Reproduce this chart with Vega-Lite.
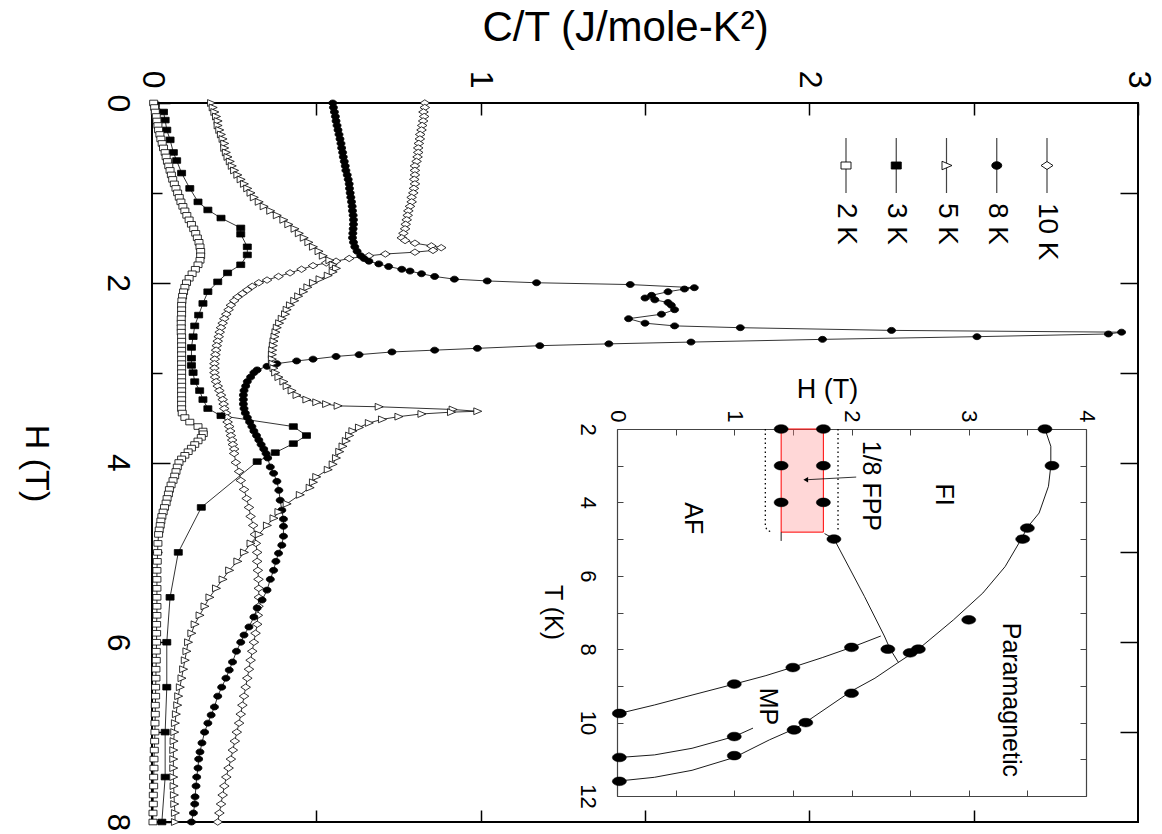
{
"$schema": "https://vega.github.io/schema/vega-lite/v6.json",
"width": 986, "height": 719,
"autosize": "none",
"padding": {"left": 152, "top": 103, "right": 24, "bottom": 12},
"background": "white",
"config": {
 "view": {"stroke": "black", "strokeWidth": 2},
 "axis": {"domain": false, "grid": false, "labelFont": "Liberation Sans", "titleFont": "Liberation Sans", "labelColor": "black", "titleColor": "black", "tickColor": "black", "titleFontWeight": "normal", "labelFlush": false, "labelOverlap": false, "labelBound": false},
 "text": {"font": "Liberation Sans"}
},
"datasets": {
"main": [
{"s":"10 K","H":0,"C":0.83},{"s":"10 K","H":0.05,"C":0.83},{"s":"10 K","H":0.1,"C":0.826},{"s":"10 K","H":0.15,"C":0.828},{"s":"10 K","H":0.2,"C":0.825},{"s":"10 K","H":0.25,"C":0.822},{"s":"10 K","H":0.3,"C":0.82},{"s":"10 K","H":0.35,"C":0.816},{"s":"10 K","H":0.4,"C":0.815},{"s":"10 K","H":0.45,"C":0.812},{"s":"10 K","H":0.5,"C":0.81},{"s":"10 K","H":0.55,"C":0.81},{"s":"10 K","H":0.6,"C":0.808},{"s":"10 K","H":0.65,"C":0.805},{"s":"10 K","H":0.7,"C":0.8},{"s":"10 K","H":0.75,"C":0.8},{"s":"10 K","H":0.8,"C":0.8},{"s":"10 K","H":0.85,"C":0.798},{"s":"10 K","H":0.9,"C":0.8},{"s":"10 K","H":0.95,"C":0.797},{"s":"10 K","H":1.0,"C":0.795},{"s":"10 K","H":1.05,"C":0.79},{"s":"10 K","H":1.1,"C":0.79},{"s":"10 K","H":1.15,"C":0.785},{"s":"10 K","H":1.2,"C":0.78},{"s":"10 K","H":1.25,"C":0.778},{"s":"10 K","H":1.3,"C":0.775},{"s":"10 K","H":1.35,"C":0.772},{"s":"10 K","H":1.4,"C":0.77},{"s":"10 K","H":1.45,"C":0.765},{"s":"10 K","H":1.5,"C":0.76},{"s":"10 K","H":1.53,"C":0.77},{"s":"10 K","H":1.56,"C":0.8},{"s":"10 K","H":1.59,"C":0.85},{"s":"10 K","H":1.61,"C":0.88},{"s":"10 K","H":1.64,"C":0.855},{"s":"10 K","H":1.66,"C":0.8},{"s":"10 K","H":1.68,"C":0.71},{"s":"10 K","H":1.7,"C":0.66},{"s":"10 K","H":1.73,"C":0.6},{"s":"10 K","H":1.76,"C":0.56},{"s":"10 K","H":1.78,"C":0.53},{"s":"10 K","H":1.81,"C":0.49},{"s":"10 K","H":1.85,"C":0.455},{"s":"10 K","H":1.89,"C":0.42},{"s":"10 K","H":1.93,"C":0.385},{"s":"10 K","H":1.97,"C":0.35},{"s":"10 K","H":2.0,"C":0.325},{"s":"10 K","H":2.04,"C":0.305},{"s":"10 K","H":2.08,"C":0.29},{"s":"10 K","H":2.12,"C":0.275},{"s":"10 K","H":2.16,"C":0.26},{"s":"10 K","H":2.2,"C":0.25},{"s":"10 K","H":2.25,"C":0.24},{"s":"10 K","H":2.3,"C":0.233},{"s":"10 K","H":2.35,"C":0.226},{"s":"10 K","H":2.4,"C":0.22},{"s":"10 K","H":2.45,"C":0.215},{"s":"10 K","H":2.5,"C":0.21},{"s":"10 K","H":2.55,"C":0.206},{"s":"10 K","H":2.6,"C":0.203},{"s":"10 K","H":2.65,"C":0.2},{"s":"10 K","H":2.7,"C":0.197},{"s":"10 K","H":2.75,"C":0.195},{"s":"10 K","H":2.8,"C":0.193},{"s":"10 K","H":2.85,"C":0.191},{"s":"10 K","H":2.9,"C":0.19},{"s":"10 K","H":2.95,"C":0.19},{"s":"10 K","H":3.0,"C":0.19},{"s":"10 K","H":3.05,"C":0.192},{"s":"10 K","H":3.1,"C":0.195},{"s":"10 K","H":3.15,"C":0.2},{"s":"10 K","H":3.2,"C":0.205},{"s":"10 K","H":3.25,"C":0.21},{"s":"10 K","H":3.3,"C":0.215},{"s":"10 K","H":3.35,"C":0.218},{"s":"10 K","H":3.4,"C":0.22},{"s":"10 K","H":3.45,"C":0.225},{"s":"10 K","H":3.5,"C":0.228},{"s":"10 K","H":3.55,"C":0.23},{"s":"10 K","H":3.6,"C":0.235},{"s":"10 K","H":3.65,"C":0.238},{"s":"10 K","H":3.7,"C":0.24},{"s":"10 K","H":3.75,"C":0.244},{"s":"10 K","H":3.8,"C":0.246},{"s":"10 K","H":3.85,"C":0.25},{"s":"10 K","H":3.9,"C":0.25},{"s":"10 K","H":4.0,"C":0.255},{"s":"10 K","H":4.1,"C":0.265},{"s":"10 K","H":4.2,"C":0.27},{"s":"10 K","H":4.3,"C":0.28},{"s":"10 K","H":4.4,"C":0.288},{"s":"10 K","H":4.5,"C":0.295},{"s":"10 K","H":4.6,"C":0.3},{"s":"10 K","H":4.7,"C":0.308},{"s":"10 K","H":4.8,"C":0.313},{"s":"10 K","H":4.9,"C":0.316},{"s":"10 K","H":5.0,"C":0.32},{"s":"10 K","H":5.1,"C":0.32},{"s":"10 K","H":5.2,"C":0.322},{"s":"10 K","H":5.3,"C":0.324},{"s":"10 K","H":5.4,"C":0.325},{"s":"10 K","H":5.5,"C":0.325},{"s":"10 K","H":5.6,"C":0.324},{"s":"10 K","H":5.7,"C":0.322},{"s":"10 K","H":5.8,"C":0.32},{"s":"10 K","H":5.9,"C":0.315},{"s":"10 K","H":6.0,"C":0.31},{"s":"10 K","H":6.1,"C":0.305},{"s":"10 K","H":6.2,"C":0.3},{"s":"10 K","H":6.3,"C":0.295},{"s":"10 K","H":6.4,"C":0.29},{"s":"10 K","H":6.5,"C":0.285},{"s":"10 K","H":6.6,"C":0.28},{"s":"10 K","H":6.7,"C":0.275},{"s":"10 K","H":6.8,"C":0.27},{"s":"10 K","H":6.9,"C":0.265},{"s":"10 K","H":7.0,"C":0.258},{"s":"10 K","H":7.1,"C":0.252},{"s":"10 K","H":7.2,"C":0.246},{"s":"10 K","H":7.3,"C":0.24},{"s":"10 K","H":7.4,"C":0.233},{"s":"10 K","H":7.5,"C":0.226},{"s":"10 K","H":7.6,"C":0.22},{"s":"10 K","H":7.7,"C":0.215},{"s":"10 K","H":7.8,"C":0.21},{"s":"10 K","H":7.9,"C":0.205},{"s":"10 K","H":8.0,"C":0.2},
{"s":"8 K","H":0,"C":0.55},{"s":"8 K","H":0.05,"C":0.552},{"s":"8 K","H":0.1,"C":0.555},{"s":"8 K","H":0.15,"C":0.558},{"s":"8 K","H":0.2,"C":0.56},{"s":"8 K","H":0.25,"C":0.563},{"s":"8 K","H":0.3,"C":0.566},{"s":"8 K","H":0.35,"C":0.569},{"s":"8 K","H":0.4,"C":0.572},{"s":"8 K","H":0.45,"C":0.575},{"s":"8 K","H":0.5,"C":0.577},{"s":"8 K","H":0.55,"C":0.58},{"s":"8 K","H":0.6,"C":0.582},{"s":"8 K","H":0.65,"C":0.585},{"s":"8 K","H":0.7,"C":0.588},{"s":"8 K","H":0.75,"C":0.59},{"s":"8 K","H":0.8,"C":0.594},{"s":"8 K","H":0.85,"C":0.597},{"s":"8 K","H":0.9,"C":0.6},{"s":"8 K","H":0.95,"C":0.601},{"s":"8 K","H":1.0,"C":0.603},{"s":"8 K","H":1.05,"C":0.605},{"s":"8 K","H":1.1,"C":0.607},{"s":"8 K","H":1.15,"C":0.609},{"s":"8 K","H":1.2,"C":0.61},{"s":"8 K","H":1.25,"C":0.612},{"s":"8 K","H":1.3,"C":0.613},{"s":"8 K","H":1.35,"C":0.613},{"s":"8 K","H":1.4,"C":0.612},{"s":"8 K","H":1.45,"C":0.611},{"s":"8 K","H":1.5,"C":0.61},{"s":"8 K","H":1.55,"C":0.613},{"s":"8 K","H":1.6,"C":0.617},{"s":"8 K","H":1.65,"C":0.624},{"s":"8 K","H":1.7,"C":0.635},{"s":"8 K","H":1.73,"C":0.645},{"s":"8 K","H":1.76,"C":0.66},{"s":"8 K","H":1.79,"C":0.69},{"s":"8 K","H":1.82,"C":0.72},{"s":"8 K","H":1.85,"C":0.76},{"s":"8 K","H":1.87,"C":0.785},{"s":"8 K","H":1.9,"C":0.82},{"s":"8 K","H":1.93,"C":0.86},{"s":"8 K","H":1.96,"C":0.92},{"s":"8 K","H":1.98,"C":1.02},{"s":"8 K","H":2.0,"C":1.17},{"s":"8 K","H":2.02,"C":1.455},{"s":"8 K","H":2.055,"C":1.65},{"s":"8 K","H":2.07,"C":1.62},{"s":"8 K","H":2.1,"C":1.57},{"s":"8 K","H":2.14,"C":1.52},{"s":"8 K","H":2.17,"C":1.5},{"s":"8 K","H":2.19,"C":1.53},{"s":"8 K","H":2.22,"C":1.57},{"s":"8 K","H":2.25,"C":1.58},{"s":"8 K","H":2.3,"C":1.59},{"s":"8 K","H":2.35,"C":1.55},{"s":"8 K","H":2.4,"C":1.45},{"s":"8 K","H":2.45,"C":1.5},{"s":"8 K","H":2.48,"C":1.59},{"s":"8 K","H":2.5,"C":1.79},{"s":"8 K","H":2.53,"C":2.25},{"s":"8 K","H":2.55,"C":2.95},{"s":"8 K","H":2.57,"C":2.91},{"s":"8 K","H":2.6,"C":2.51},{"s":"8 K","H":2.63,"C":2.04},{"s":"8 K","H":2.66,"C":1.64},{"s":"8 K","H":2.68,"C":1.39},{"s":"8 K","H":2.7,"C":1.18},{"s":"8 K","H":2.73,"C":0.99},{"s":"8 K","H":2.75,"C":0.86},{"s":"8 K","H":2.77,"C":0.73},{"s":"8 K","H":2.8,"C":0.63},{"s":"8 K","H":2.82,"C":0.56},{"s":"8 K","H":2.85,"C":0.49},{"s":"8 K","H":2.87,"C":0.44},{"s":"8 K","H":2.9,"C":0.38},{"s":"8 K","H":2.93,"C":0.35},{"s":"8 K","H":2.97,"C":0.32},{"s":"8 K","H":3.0,"C":0.31},{"s":"8 K","H":3.05,"C":0.3},{"s":"8 K","H":3.1,"C":0.29},{"s":"8 K","H":3.15,"C":0.285},{"s":"8 K","H":3.2,"C":0.28},{"s":"8 K","H":3.25,"C":0.278},{"s":"8 K","H":3.3,"C":0.278},{"s":"8 K","H":3.35,"C":0.278},{"s":"8 K","H":3.4,"C":0.28},{"s":"8 K","H":3.45,"C":0.284},{"s":"8 K","H":3.5,"C":0.29},{"s":"8 K","H":3.55,"C":0.297},{"s":"8 K","H":3.6,"C":0.304},{"s":"8 K","H":3.65,"C":0.31},{"s":"8 K","H":3.7,"C":0.318},{"s":"8 K","H":3.75,"C":0.325},{"s":"8 K","H":3.8,"C":0.332},{"s":"8 K","H":3.85,"C":0.34},{"s":"8 K","H":3.9,"C":0.347},{"s":"8 K","H":3.95,"C":0.352},{"s":"8 K","H":4.05,"C":0.36},{"s":"8 K","H":4.12,"C":0.37},{"s":"8 K","H":4.21,"C":0.38},{"s":"8 K","H":4.31,"C":0.386},{"s":"8 K","H":4.42,"C":0.39},{"s":"8 K","H":4.53,"C":0.395},{"s":"8 K","H":4.63,"C":0.4},{"s":"8 K","H":4.71,"C":0.4},{"s":"8 K","H":4.82,"C":0.4},{"s":"8 K","H":4.92,"C":0.395},{"s":"8 K","H":5.01,"C":0.385},{"s":"8 K","H":5.1,"C":0.377},{"s":"8 K","H":5.2,"C":0.37},{"s":"8 K","H":5.3,"C":0.36},{"s":"8 K","H":5.42,"C":0.35},{"s":"8 K","H":5.53,"C":0.335},{"s":"8 K","H":5.62,"C":0.32},{"s":"8 K","H":5.72,"C":0.31},{"s":"8 K","H":5.83,"C":0.295},{"s":"8 K","H":5.92,"C":0.28},{"s":"8 K","H":6.0,"C":0.27},{"s":"8 K","H":6.1,"C":0.257},{"s":"8 K","H":6.22,"C":0.245},{"s":"8 K","H":6.31,"C":0.235},{"s":"8 K","H":6.4,"C":0.225},{"s":"8 K","H":6.5,"C":0.212},{"s":"8 K","H":6.6,"C":0.2},{"s":"8 K","H":6.72,"C":0.19},{"s":"8 K","H":6.81,"C":0.18},{"s":"8 K","H":6.9,"C":0.17},{"s":"8 K","H":7.0,"C":0.16},{"s":"8 K","H":7.12,"C":0.152},{"s":"8 K","H":7.22,"C":0.146},{"s":"8 K","H":7.3,"C":0.142},{"s":"8 K","H":7.4,"C":0.14},{"s":"8 K","H":7.5,"C":0.136},{"s":"8 K","H":7.6,"C":0.134},{"s":"8 K","H":7.72,"C":0.131},{"s":"8 K","H":7.8,"C":0.13},{"s":"8 K","H":7.9,"C":0.126},{"s":"8 K","H":8.0,"C":0.12},
{"s":"5 K","H":0,"C":0.18},{"s":"5 K","H":0.05,"C":0.185},{"s":"5 K","H":0.1,"C":0.19},{"s":"5 K","H":0.15,"C":0.195},{"s":"5 K","H":0.2,"C":0.2},{"s":"5 K","H":0.25,"C":0.2},{"s":"5 K","H":0.3,"C":0.205},{"s":"5 K","H":0.35,"C":0.21},{"s":"5 K","H":0.4,"C":0.215},{"s":"5 K","H":0.45,"C":0.22},{"s":"5 K","H":0.5,"C":0.22},{"s":"5 K","H":0.55,"C":0.225},{"s":"5 K","H":0.6,"C":0.23},{"s":"5 K","H":0.65,"C":0.237},{"s":"5 K","H":0.7,"C":0.243},{"s":"5 K","H":0.75,"C":0.25},{"s":"5 K","H":0.8,"C":0.26},{"s":"5 K","H":0.85,"C":0.27},{"s":"5 K","H":0.9,"C":0.28},{"s":"5 K","H":0.95,"C":0.29},{"s":"5 K","H":1.0,"C":0.3},{"s":"5 K","H":1.05,"C":0.31},{"s":"5 K","H":1.1,"C":0.325},{"s":"5 K","H":1.15,"C":0.34},{"s":"5 K","H":1.2,"C":0.36},{"s":"5 K","H":1.25,"C":0.38},{"s":"5 K","H":1.3,"C":0.4},{"s":"5 K","H":1.35,"C":0.415},{"s":"5 K","H":1.4,"C":0.434},{"s":"5 K","H":1.45,"C":0.447},{"s":"5 K","H":1.5,"C":0.462},{"s":"5 K","H":1.55,"C":0.476},{"s":"5 K","H":1.6,"C":0.49},{"s":"5 K","H":1.65,"C":0.507},{"s":"5 K","H":1.7,"C":0.52},{"s":"5 K","H":1.75,"C":0.54},{"s":"5 K","H":1.8,"C":0.55},{"s":"5 K","H":1.84,"C":0.56},{"s":"5 K","H":1.88,"C":0.55},{"s":"5 K","H":1.92,"C":0.535},{"s":"5 K","H":1.96,"C":0.51},{"s":"5 K","H":2.0,"C":0.49},{"s":"5 K","H":2.05,"C":0.473},{"s":"5 K","H":2.1,"C":0.46},{"s":"5 K","H":2.15,"C":0.445},{"s":"5 K","H":2.2,"C":0.433},{"s":"5 K","H":2.25,"C":0.42},{"s":"5 K","H":2.3,"C":0.41},{"s":"5 K","H":2.35,"C":0.405},{"s":"5 K","H":2.4,"C":0.395},{"s":"5 K","H":2.45,"C":0.387},{"s":"5 K","H":2.5,"C":0.38},{"s":"5 K","H":2.55,"C":0.376},{"s":"5 K","H":2.6,"C":0.373},{"s":"5 K","H":2.65,"C":0.37},{"s":"5 K","H":2.7,"C":0.368},{"s":"5 K","H":2.75,"C":0.366},{"s":"5 K","H":2.8,"C":0.365},{"s":"5 K","H":2.85,"C":0.365},{"s":"5 K","H":2.9,"C":0.367},{"s":"5 K","H":2.95,"C":0.37},{"s":"5 K","H":3.0,"C":0.375},{"s":"5 K","H":3.05,"C":0.385},{"s":"5 K","H":3.1,"C":0.4},{"s":"5 K","H":3.15,"C":0.41},{"s":"5 K","H":3.2,"C":0.425},{"s":"5 K","H":3.25,"C":0.44},{"s":"5 K","H":3.3,"C":0.47},{"s":"5 K","H":3.33,"C":0.5},{"s":"5 K","H":3.35,"C":0.53},{"s":"5 K","H":3.37,"C":0.565},{"s":"5 K","H":3.38,"C":0.69},{"s":"5 K","H":3.41,"C":0.915},{"s":"5 K","H":3.43,"C":0.99},{"s":"5 K","H":3.44,"C":0.91},{"s":"5 K","H":3.46,"C":0.82},{"s":"5 K","H":3.49,"C":0.75},{"s":"5 K","H":3.52,"C":0.7},{"s":"5 K","H":3.56,"C":0.66},{"s":"5 K","H":3.61,"C":0.63},{"s":"5 K","H":3.65,"C":0.61},{"s":"5 K","H":3.7,"C":0.6},{"s":"5 K","H":3.76,"C":0.59},{"s":"5 K","H":3.82,"C":0.58},{"s":"5 K","H":3.88,"C":0.57},{"s":"5 K","H":3.95,"C":0.56},{"s":"5 K","H":4.02,"C":0.55},{"s":"5 K","H":4.08,"C":0.535},{"s":"5 K","H":4.16,"C":0.5},{"s":"5 K","H":4.22,"C":0.49},{"s":"5 K","H":4.28,"C":0.48},{"s":"5 K","H":4.36,"C":0.45},{"s":"5 K","H":4.46,"C":0.41},{"s":"5 K","H":4.55,"C":0.385},{"s":"5 K","H":4.62,"C":0.37},{"s":"5 K","H":4.7,"C":0.35},{"s":"5 K","H":4.8,"C":0.325},{"s":"5 K","H":4.9,"C":0.3},{"s":"5 K","H":5.0,"C":0.28},{"s":"5 K","H":5.1,"C":0.26},{"s":"5 K","H":5.2,"C":0.235},{"s":"5 K","H":5.3,"C":0.215},{"s":"5 K","H":5.4,"C":0.195},{"s":"5 K","H":5.5,"C":0.175},{"s":"5 K","H":5.6,"C":0.16},{"s":"5 K","H":5.7,"C":0.145},{"s":"5 K","H":5.8,"C":0.13},{"s":"5 K","H":5.9,"C":0.12},{"s":"5 K","H":6.0,"C":0.11},{"s":"5 K","H":6.1,"C":0.105},{"s":"5 K","H":6.2,"C":0.1},{"s":"5 K","H":6.3,"C":0.095},{"s":"5 K","H":6.4,"C":0.09},{"s":"5 K","H":6.5,"C":0.085},{"s":"5 K","H":6.6,"C":0.08},{"s":"5 K","H":6.7,"C":0.077},{"s":"5 K","H":6.8,"C":0.073},{"s":"5 K","H":6.9,"C":0.07},{"s":"5 K","H":7.0,"C":0.068},{"s":"5 K","H":7.1,"C":0.066},{"s":"5 K","H":7.2,"C":0.065},{"s":"5 K","H":7.3,"C":0.065},{"s":"5 K","H":7.4,"C":0.065},{"s":"5 K","H":7.5,"C":0.065},{"s":"5 K","H":7.6,"C":0.066},{"s":"5 K","H":7.7,"C":0.067},{"s":"5 K","H":7.8,"C":0.068},{"s":"5 K","H":7.9,"C":0.07},{"s":"5 K","H":8.0,"C":0.07},
{"s":"3 K","H":0.02,"C":0.01},{"s":"3 K","H":0.1,"C":0.035},{"s":"3 K","H":0.19,"C":0.04},{"s":"3 K","H":0.3,"C":0.045},{"s":"3 K","H":0.41,"C":0.055},{"s":"3 K","H":0.55,"C":0.065},{"s":"3 K","H":0.64,"C":0.075},{"s":"3 K","H":0.78,"C":0.09},{"s":"3 K","H":0.95,"C":0.115},{"s":"3 K","H":1.1,"C":0.14},{"s":"3 K","H":1.19,"C":0.17},{"s":"3 K","H":1.28,"C":0.21},{"s":"3 K","H":1.39,"C":0.27},{"s":"3 K","H":1.46,"C":0.27},{"s":"3 K","H":1.6,"C":0.29},{"s":"3 K","H":1.69,"C":0.29},{"s":"3 K","H":1.8,"C":0.27},{"s":"3 K","H":1.89,"C":0.23},{"s":"3 K","H":1.99,"C":0.2},{"s":"3 K","H":2.1,"C":0.17},{"s":"3 K","H":2.23,"C":0.155},{"s":"3 K","H":2.36,"C":0.142},{"s":"3 K","H":2.48,"C":0.13},{"s":"3 K","H":2.6,"C":0.125},{"s":"3 K","H":2.72,"C":0.12},{"s":"3 K","H":2.84,"C":0.12},{"s":"3 K","H":2.92,"C":0.12},{"s":"3 K","H":3.0,"C":0.125},{"s":"3 K","H":3.1,"C":0.13},{"s":"3 K","H":3.2,"C":0.145},{"s":"3 K","H":3.3,"C":0.155},{"s":"3 K","H":3.4,"C":0.17},{"s":"3 K","H":3.48,"C":0.21},{"s":"3 K","H":3.6,"C":0.43},{"s":"3 K","H":3.7,"C":0.47},{"s":"3 K","H":3.79,"C":0.43},{"s":"3 K","H":3.89,"C":0.375},{"s":"3 K","H":3.99,"C":0.32},{"s":"3 K","H":4.5,"C":0.15},{"s":"3 K","H":5.0,"C":0.08},{"s":"3 K","H":5.5,"C":0.055},{"s":"3 K","H":6.0,"C":0.045},{"s":"3 K","H":6.5,"C":0.045},{"s":"3 K","H":7.0,"C":0.04},{"s":"3 K","H":7.5,"C":0.04},{"s":"3 K","H":8.0,"C":0.03},
{"s":"2 K","H":0,"C":0.005},{"s":"2 K","H":0.05,"C":0.008},{"s":"2 K","H":0.1,"C":0.01},{"s":"2 K","H":0.15,"C":0.013},{"s":"2 K","H":0.2,"C":0.015},{"s":"2 K","H":0.25,"C":0.018},{"s":"2 K","H":0.3,"C":0.02},{"s":"2 K","H":0.35,"C":0.024},{"s":"2 K","H":0.4,"C":0.027},{"s":"2 K","H":0.45,"C":0.031},{"s":"2 K","H":0.5,"C":0.035},{"s":"2 K","H":0.55,"C":0.04},{"s":"2 K","H":0.6,"C":0.043},{"s":"2 K","H":0.65,"C":0.047},{"s":"2 K","H":0.7,"C":0.051},{"s":"2 K","H":0.75,"C":0.055},{"s":"2 K","H":0.8,"C":0.059},{"s":"2 K","H":0.85,"C":0.063},{"s":"2 K","H":0.9,"C":0.068},{"s":"2 K","H":0.95,"C":0.073},{"s":"2 K","H":1.0,"C":0.078},{"s":"2 K","H":1.05,"C":0.083},{"s":"2 K","H":1.1,"C":0.088},{"s":"2 K","H":1.15,"C":0.094},{"s":"2 K","H":1.2,"C":0.1},{"s":"2 K","H":1.25,"C":0.106},{"s":"2 K","H":1.3,"C":0.113},{"s":"2 K","H":1.35,"C":0.12},{"s":"2 K","H":1.4,"C":0.127},{"s":"2 K","H":1.45,"C":0.133},{"s":"2 K","H":1.5,"C":0.138},{"s":"2 K","H":1.55,"C":0.143},{"s":"2 K","H":1.6,"C":0.146},{"s":"2 K","H":1.65,"C":0.148},{"s":"2 K","H":1.7,"C":0.148},{"s":"2 K","H":1.75,"C":0.146},{"s":"2 K","H":1.8,"C":0.14},{"s":"2 K","H":1.85,"C":0.132},{"s":"2 K","H":1.9,"C":0.122},{"s":"2 K","H":1.95,"C":0.113},{"s":"2 K","H":2.0,"C":0.105},{"s":"2 K","H":2.05,"C":0.1},{"s":"2 K","H":2.1,"C":0.096},{"s":"2 K","H":2.15,"C":0.093},{"s":"2 K","H":2.2,"C":0.091},{"s":"2 K","H":2.25,"C":0.09},{"s":"2 K","H":2.3,"C":0.09},{"s":"2 K","H":2.35,"C":0.09},{"s":"2 K","H":2.4,"C":0.089},{"s":"2 K","H":2.45,"C":0.089},{"s":"2 K","H":2.5,"C":0.089},{"s":"2 K","H":2.55,"C":0.089},{"s":"2 K","H":2.6,"C":0.09},{"s":"2 K","H":2.65,"C":0.09},{"s":"2 K","H":2.7,"C":0.09},{"s":"2 K","H":2.75,"C":0.09},{"s":"2 K","H":2.8,"C":0.09},{"s":"2 K","H":2.85,"C":0.09},{"s":"2 K","H":2.9,"C":0.09},{"s":"2 K","H":2.95,"C":0.09},{"s":"2 K","H":3.0,"C":0.09},{"s":"2 K","H":3.05,"C":0.09},{"s":"2 K","H":3.1,"C":0.09},{"s":"2 K","H":3.15,"C":0.09},{"s":"2 K","H":3.2,"C":0.09},{"s":"2 K","H":3.25,"C":0.09},{"s":"2 K","H":3.3,"C":0.09},{"s":"2 K","H":3.35,"C":0.09},{"s":"2 K","H":3.4,"C":0.09},{"s":"2 K","H":3.45,"C":0.092},{"s":"2 K","H":3.5,"C":0.1},{"s":"2 K","H":3.55,"C":0.115},{"s":"2 K","H":3.6,"C":0.14},{"s":"2 K","H":3.65,"C":0.155},{"s":"2 K","H":3.68,"C":0.156},{"s":"2 K","H":3.72,"C":0.15},{"s":"2 K","H":3.76,"C":0.14},{"s":"2 K","H":3.8,"C":0.13},{"s":"2 K","H":3.84,"C":0.12},{"s":"2 K","H":3.88,"C":0.11},{"s":"2 K","H":3.92,"C":0.1},{"s":"2 K","H":3.96,"C":0.09},{"s":"2 K","H":4.0,"C":0.082},{"s":"2 K","H":4.05,"C":0.077},{"s":"2 K","H":4.1,"C":0.073},{"s":"2 K","H":4.15,"C":0.069},{"s":"2 K","H":4.2,"C":0.064},{"s":"2 K","H":4.25,"C":0.058},{"s":"2 K","H":4.3,"C":0.053},{"s":"2 K","H":4.35,"C":0.05},{"s":"2 K","H":4.4,"C":0.046},{"s":"2 K","H":4.45,"C":0.043},{"s":"2 K","H":4.5,"C":0.038},{"s":"2 K","H":4.55,"C":0.034},{"s":"2 K","H":4.6,"C":0.03},{"s":"2 K","H":4.65,"C":0.027},{"s":"2 K","H":4.7,"C":0.025},{"s":"2 K","H":4.75,"C":0.022},{"s":"2 K","H":4.8,"C":0.02},{"s":"2 K","H":4.9,"C":0.018},{"s":"2 K","H":5.0,"C":0.017},{"s":"2 K","H":5.1,"C":0.016},{"s":"2 K","H":5.2,"C":0.015},{"s":"2 K","H":5.3,"C":0.015},{"s":"2 K","H":5.4,"C":0.015},{"s":"2 K","H":5.5,"C":0.015},{"s":"2 K","H":5.6,"C":0.015},{"s":"2 K","H":5.7,"C":0.015},{"s":"2 K","H":5.8,"C":0.014},{"s":"2 K","H":5.9,"C":0.014},{"s":"2 K","H":6.0,"C":0.014},{"s":"2 K","H":6.1,"C":0.013},{"s":"2 K","H":6.2,"C":0.013},{"s":"2 K","H":6.3,"C":0.012},{"s":"2 K","H":6.4,"C":0.012},{"s":"2 K","H":6.5,"C":0.011},{"s":"2 K","H":6.6,"C":0.011},{"s":"2 K","H":6.7,"C":0.01},{"s":"2 K","H":6.8,"C":0.01},{"s":"2 K","H":6.9,"C":0.009},{"s":"2 K","H":7.0,"C":0.009},{"s":"2 K","H":7.1,"C":0.008},{"s":"2 K","H":7.2,"C":0.007},{"s":"2 K","H":7.3,"C":0.006},{"s":"2 K","H":7.4,"C":0.006},{"s":"2 K","H":7.5,"C":0.005},{"s":"2 K","H":7.6,"C":0.005},{"s":"2 K","H":7.7,"C":0.004},{"s":"2 K","H":7.8,"C":0.004},{"s":"2 K","H":7.9,"C":0.003},{"s":"2 K","H":8.0,"C":0.003}
],
"legend": [{"s":"2 K"},{"s":"3 K"},{"s":"5 K"},{"s":"8 K"},{"s":"10 K"}],
"insetline": [
{"c":"para","T":2,"H":3.65},{"c":"para","T":2.47,"H":3.7},{"c":"para","T":3,"H":3.7},{"c":"para","T":3.56,"H":3.68},{"c":"para","T":4.29,"H":3.6},{"c":"para","T":4.68,"H":3.5},{"c":"para","T":4.99,"H":3.45},{"c":"para","T":5.75,"H":3.31},{"c":"para","T":6.47,"H":3.12},{"c":"para","T":7.2,"H":2.87},{"c":"para","T":8.0,"H":2.57},{"c":"para","T":8.38,"H":2.39},{"c":"para","T":8.79,"H":2.2},{"c":"para","T":9.14,"H":2.0},{"c":"para","T":9.99,"H":1.61},{"c":"para","T":10.16,"H":1.52},{"c":"para","T":10.47,"H":1.3},{"c":"para","T":10.95,"H":1.0},{"c":"para","T":11.3,"H":0.64},{"c":"para","T":11.49,"H":0.32},{"c":"para","T":11.59,"H":0.02},
{"c":"fi","T":4.85,"H":1.77},{"c":"fi","T":4.99,"H":1.85},{"c":"fi","T":6.56,"H":2.11},{"c":"fi","T":7.64,"H":2.28},{"c":"fi","T":8.0,"H":2.33},{"c":"fi","T":8.36,"H":2.4},
{"c":"mp1","T":7.64,"H":2.25},{"c":"mp1","T":7.95,"H":2.0},{"c":"mp1","T":8.23,"H":1.75},{"c":"mp1","T":8.49,"H":1.5},{"c":"mp1","T":8.72,"H":1.27},{"c":"mp1","T":8.95,"H":1.0},{"c":"mp1","T":9.25,"H":0.64},{"c":"mp1","T":9.52,"H":0.32},{"c":"mp1","T":9.75,"H":0.02},
{"c":"mp2","T":10.15,"H":1.16},{"c":"mp2","T":10.38,"H":1.0},{"c":"mp2","T":10.7,"H":0.64},{"c":"mp2","T":10.88,"H":0.32},{"c":"mp2","T":10.95,"H":0.02},
{"c":"seg","T":4.81,"H":1.4},{"c":"seg","T":5.05,"H":1.4}
],
"insetdot": [
{"c":"l","T":2,"H":1.265},{"c":"l","T":4.65,"H":1.265},{"c":"l","T":4.76,"H":1.28},{"c":"l","T":4.81,"H":1.32},
{"c":"r","T":2,"H":1.885},{"c":"r","T":4.79,"H":1.885}
],
"insetpts": [
{"T":2,"H":3.65},{"T":3,"H":3.71},{"T":4.7,"H":3.5},{"T":5.0,"H":3.46},{"T":7.2,"H":3.0},{"T":8.0,"H":2.57},{"T":8.1,"H":2.5},{"T":9.2,"H":2.0},{"T":10.0,"H":1.61},{"T":10.2,"H":1.51},{"T":10.9,"H":1.0},{"T":11.6,"H":0.02},
{"T":2,"H":1.76},{"T":3,"H":1.76},{"T":4,"H":1.76},{"T":2,"H":1.4},{"T":3,"H":1.4},{"T":4,"H":1.4},{"T":5.0,"H":1.85},{"T":8.0,"H":2.31},
{"T":7.95,"H":2.0},{"T":8.5,"H":1.5},{"T":8.95,"H":1.0},{"T":9.75,"H":0.02},
{"T":10.38,"H":1.0},{"T":10.95,"H":0.02}
],
"insettext": [
{"t":"Paramagnetic","H":3.36,"T":9.38},{"t":"FI","H":2.79,"T":3.79},{"t":"1/8 FPP","H":2.17,"T":3.55},{"t":"AF","H":0.65,"T":4.43},{"t":"MP","H":1.29,"T":9.56}
],
"arrow": [{"H":2.04,"T":3.31},{"H":1.63,"T":3.38}],
"arrowhead": [{"H":1.61,"T":3.38}],
"fpp": [{"H1":1.4,"H2":1.76,"T1":2,"T2":4.81}]
},
"layer": [
{
 "data": {"name": "main"},
 "mark": {"type": "line", "color": "black", "strokeWidth": 0.8},
 "encoding": {
  "x": {"field": "C", "type": "quantitative", "scale": {"domain": [0, 3], "nice": false, "zero": false},
   "axis": {"orient": "top", "values": [0, 0.5, 1, 1.5, 2, 2.5, 3], "tickSize": -12, "tickWidth": 1.5, "labelExpr": "datum.value % 1 === 0 ? format(datum.value, 'd') : ''", "labelAngle": 90, "labelAlign": "right", "labelBaseline": "middle", "labelPadding": 27, "labelFontSize": 32, "title": "C/T (J/mole-K²)", "titleFontSize": 42, "titleAngle": 0, "titleX": 473, "titleY": -63, "titleAlign": "center", "titleBaseline": "alphabetic"}},
  "y": {"field": "H", "type": "quantitative", "scale": {"domain": [0, 8], "nice": false, "zero": false, "reverse": true},
   "axis": {"orient": "left", "values": [0, 2, 4, 6, 8], "tickSize": -18, "tickWidth": 1.5, "labelExpr": "format(datum.value, 'd')", "labelAngle": 90, "labelAlign": "center", "labelBaseline": "top", "labelPadding": 38, "labelFontSize": 32, "title": "H (T)", "titleFontSize": 34, "titleAngle": 90, "titleX": -117, "titleY": 360, "titleAlign": "center", "titleBaseline": "middle"}},
  "detail": {"field": "s", "type": "nominal"},
  "order": {"field": "H", "type": "quantitative"}
 }
},
{
 "data": {"name": "main"},
 "mark": {"type": "point", "filled": true, "size": 64, "stroke": "black", "strokeWidth": 0.8, "opacity": 1},
 "encoding": {
  "x": {"field": "C", "type": "quantitative", "scale": {"domain": [0, 3], "nice": false, "zero": false},
   "axis": {"orient": "bottom", "values": [0.5, 1, 1.5, 2, 2.5], "tickSize": -12, "tickWidth": 1.5, "labels": false, "title": null}},
  "y": {"field": "H", "type": "quantitative", "scale": {"domain": [0, 8], "nice": false, "zero": false, "reverse": true},
   "axis": {"orient": "left", "values": [1, 3, 5, 7], "tickSize": -10, "tickWidth": 1.5, "labels": false, "title": null}},
  "shape": {"field": "s", "type": "nominal",
   "scale": {"domain": ["2 K", "3 K", "5 K", "8 K", "10 K"], "range": ["M-1,-0.7L1,-0.7L1,0.7L-1,0.7Z", "M-1,-0.7L1,-0.7L1,0.7L-1,0.7Z", "M-0.9,-0.85L1.1,0L-0.9,0.85Z", "M1,0A1,0.75,0,1,1,-1,0A1,0.75,0,1,1,1,0Z", "M-1.2,0L0,-0.8L1.2,0L0,0.8Z"]},
   "legend": null},
  "fill": {"field": "s", "type": "nominal",
   "scale": {"domain": ["2 K", "3 K", "5 K", "8 K", "10 K"], "range": ["white", "black", "white", "black", "white"]},
   "legend": null}
 }
},
{
 "data": {"name": "main"},
 "mark": {"type": "point", "opacity": 0},
 "encoding": {
  "x": {"field": "C", "type": "quantitative", "scale": {"domain": [0, 3], "nice": false, "zero": false}, "axis": null},
  "y": {"field": "H", "type": "quantitative", "scale": {"domain": [0, 8], "nice": false, "zero": false, "reverse": true},
   "axis": {"orient": "right", "values": [1, 2, 3, 4, 5, 6, 7], "tickSize": -18, "tickWidth": 1.5, "labels": false, "title": null}}
 }
},
{
 "data": {"name": "legend"},
 "mark": {"type": "rule", "color": "#444444", "strokeWidth": 1.2},
 "encoding": {
  "x": {"field": "s", "type": "nominal", "sort": null, "scale": {"type": "point", "domain": ["2 K", "3 K", "5 K", "8 K", "10 K"], "range": [694, 895], "padding": 0}, "axis": null},
  "y": {"datum": 0, "type": "quantitative", "scale": {"domain": [0, 1], "range": [35, 90], "nice": false, "zero": false}, "axis": null},
  "y2": {"datum": 1}
 }
},
{
 "data": {"name": "legend"},
 "mark": {"type": "point", "filled": true, "size": 100, "stroke": "black", "strokeWidth": 0.9, "opacity": 1},
 "encoding": {
  "x": {"field": "s", "type": "nominal", "sort": null, "scale": {"type": "point", "domain": ["2 K", "3 K", "5 K", "8 K", "10 K"], "range": [694, 895], "padding": 0}, "axis": null},
  "y": {"datum": 0.5, "type": "quantitative", "scale": {"domain": [0, 1], "range": [35, 90], "nice": false, "zero": false}, "axis": null},
  "shape": {"field": "s", "type": "nominal", "legend": null},
  "fill": {"field": "s", "type": "nominal", "legend": null}
 }
},
{
 "data": {"name": "legend"},
 "mark": {"type": "text", "angle": 90, "fontSize": 28, "align": "left", "baseline": "middle", "color": "black", "font": "Liberation Sans"},
 "encoding": {
  "x": {"field": "s", "type": "nominal", "sort": null, "scale": {"type": "point", "domain": ["2 K", "3 K", "5 K", "8 K", "10 K"], "range": [694, 895], "padding": 0}, "axis": null},
  "y": {"datum": 1.18, "type": "quantitative", "scale": {"domain": [0, 1], "range": [35, 90], "nice": false, "zero": false}, "axis": null},
  "text": {"field": "s", "type": "nominal"}
 }
},
{
 "data": {"name": "fpp"},
 "mark": {"type": "rect", "fill": "#ff8c8c", "fillOpacity": 0.35, "stroke": "red", "strokeWidth": 1},
 "encoding": {
  "x": {"field": "H1", "type": "quantitative", "scale": {"domain": [0, 4], "range": [465, 934], "nice": false, "zero": false}, "axis": null},
  "x2": {"field": "H2"},
  "y": {"field": "T1", "type": "quantitative", "scale": {"domain": [2, 12], "range": [326, 693], "nice": false, "zero": false}, "axis": null},
  "y2": {"field": "T2"}
 }
},
{
 "data": {"name": "insetdot"},
 "mark": {"type": "line", "color": "black", "strokeWidth": 1.3, "strokeDash": [1.5, 3]},
 "encoding": {
  "x": {"field": "H", "type": "quantitative", "scale": {"domain": [0, 4], "range": [465, 934], "nice": false, "zero": false}, "axis": null},
  "y": {"field": "T", "type": "quantitative", "scale": {"domain": [2, 12], "range": [326, 693], "nice": false, "zero": false}, "axis": null},
  "detail": {"field": "c", "type": "nominal"},
  "order": {"field": "T", "type": "quantitative"}
 }
},
{
 "data": {"name": "insetline"},
 "mark": {"type": "line", "color": "black", "strokeWidth": 0.9},
 "encoding": {
  "x": {"field": "H", "type": "quantitative", "scale": {"domain": [0, 4], "range": [465, 934], "nice": false, "zero": false},
   "axis": {"orient": "top", "offset": -326, "values": [0, 0.5, 1, 1.5, 2, 2.5, 3, 3.5, 4], "domain": true, "domainColor": "#444444", "domainWidth": 1.2, "tickColor": "#444444", "tickSize": -6, "tickWidth": 1, "labelExpr": "datum.value % 1 === 0 ? format(datum.value, 'd') : ''", "labelAngle": 90, "labelAlign": "right", "labelBaseline": "middle", "labelPadding": 13, "labelFontSize": 22, "title": "H (T)", "titleFontSize": 27, "titleAngle": 0, "titleX": 675, "titleY": -32, "titleAlign": "center", "titleBaseline": "alphabetic"}},
  "y": {"field": "T", "type": "quantitative", "scale": {"domain": [2, 12], "range": [326, 693], "nice": false, "zero": false},
   "axis": {"orient": "left", "offset": -465, "values": [2, 3, 4, 5, 6, 7, 8, 9, 10, 11, 12], "domain": true, "domainColor": "#444444", "domainWidth": 1.2, "tickColor": "#444444", "tickSize": -6, "tickWidth": 1, "labelExpr": "datum.value % 2 === 0 ? format(datum.value, 'd') : ''", "labelAngle": 90, "labelAlign": "center", "labelBaseline": "top", "labelPadding": 26, "labelFontSize": 22, "title": "T (K)", "titleFontSize": 25, "titleAngle": 90, "titleX": -65, "titleY": 509, "titleAlign": "center", "titleBaseline": "middle"}},
  "detail": {"field": "c", "type": "nominal"},
  "order": {"field": "T", "type": "quantitative"}
 }
},
{
 "data": {"name": "insetpts"},
 "mark": {"type": "point", "filled": true, "fill": "black", "stroke": "black", "strokeWidth": 0.5, "size": 196, "shape": "M1,0A1,0.62,0,1,1,-1,0A1,0.62,0,1,1,1,0Z", "opacity": 1},
 "encoding": {
  "x": {"field": "H", "type": "quantitative", "scale": {"domain": [0, 4], "range": [465, 934], "nice": false, "zero": false},
   "axis": {"orient": "bottom", "offset": -26, "values": [0, 0.5, 1, 1.5, 2, 2.5, 3, 3.5, 4], "domain": true, "domainColor": "#444444", "domainWidth": 1.2, "tickColor": "#444444", "tickSize": -6, "tickWidth": 1, "labels": false, "title": null}},
  "y": {"field": "T", "type": "quantitative", "scale": {"domain": [2, 12], "range": [326, 693], "nice": false, "zero": false},
   "axis": {"orient": "right", "offset": -52, "values": [2, 3, 4, 5, 6, 7, 8, 9, 10, 11, 12], "domain": true, "domainColor": "#444444", "domainWidth": 1.2, "tickColor": "#444444", "tickSize": -6, "tickWidth": 1, "labels": false, "title": null}}
 }
},
{
 "data": {"name": "insettext"},
 "mark": {"type": "text", "angle": 90, "fontSize": 25, "align": "center", "baseline": "middle", "color": "black", "font": "Liberation Sans"},
 "encoding": {
  "x": {"field": "H", "type": "quantitative", "scale": {"domain": [0, 4], "range": [465, 934], "nice": false, "zero": false}, "axis": null},
  "y": {"field": "T", "type": "quantitative", "scale": {"domain": [2, 12], "range": [326, 693], "nice": false, "zero": false}, "axis": null},
  "text": {"field": "t", "type": "nominal"}
 }
},
{
 "data": {"name": "arrow"},
 "mark": {"type": "line", "color": "black", "strokeWidth": 0.8},
 "encoding": {
  "x": {"field": "H", "type": "quantitative", "scale": {"domain": [0, 4], "range": [465, 934], "nice": false, "zero": false}, "axis": null},
  "y": {"field": "T", "type": "quantitative", "scale": {"domain": [2, 12], "range": [326, 693], "nice": false, "zero": false}, "axis": null}
 }
},
{
 "data": {"name": "arrowhead"},
 "mark": {"type": "point", "shape": "triangle-left", "filled": true, "fill": "black", "size": 30, "opacity": 1},
 "encoding": {
  "x": {"field": "H", "type": "quantitative", "scale": {"domain": [0, 4], "range": [465, 934], "nice": false, "zero": false}, "axis": null},
  "y": {"field": "T", "type": "quantitative", "scale": {"domain": [2, 12], "range": [326, 693], "nice": false, "zero": false}, "axis": null}
 }
}
],
"resolve": {"scale": {"x": "independent", "y": "independent"}, "axis": {"x": "independent", "y": "independent"}}
}
